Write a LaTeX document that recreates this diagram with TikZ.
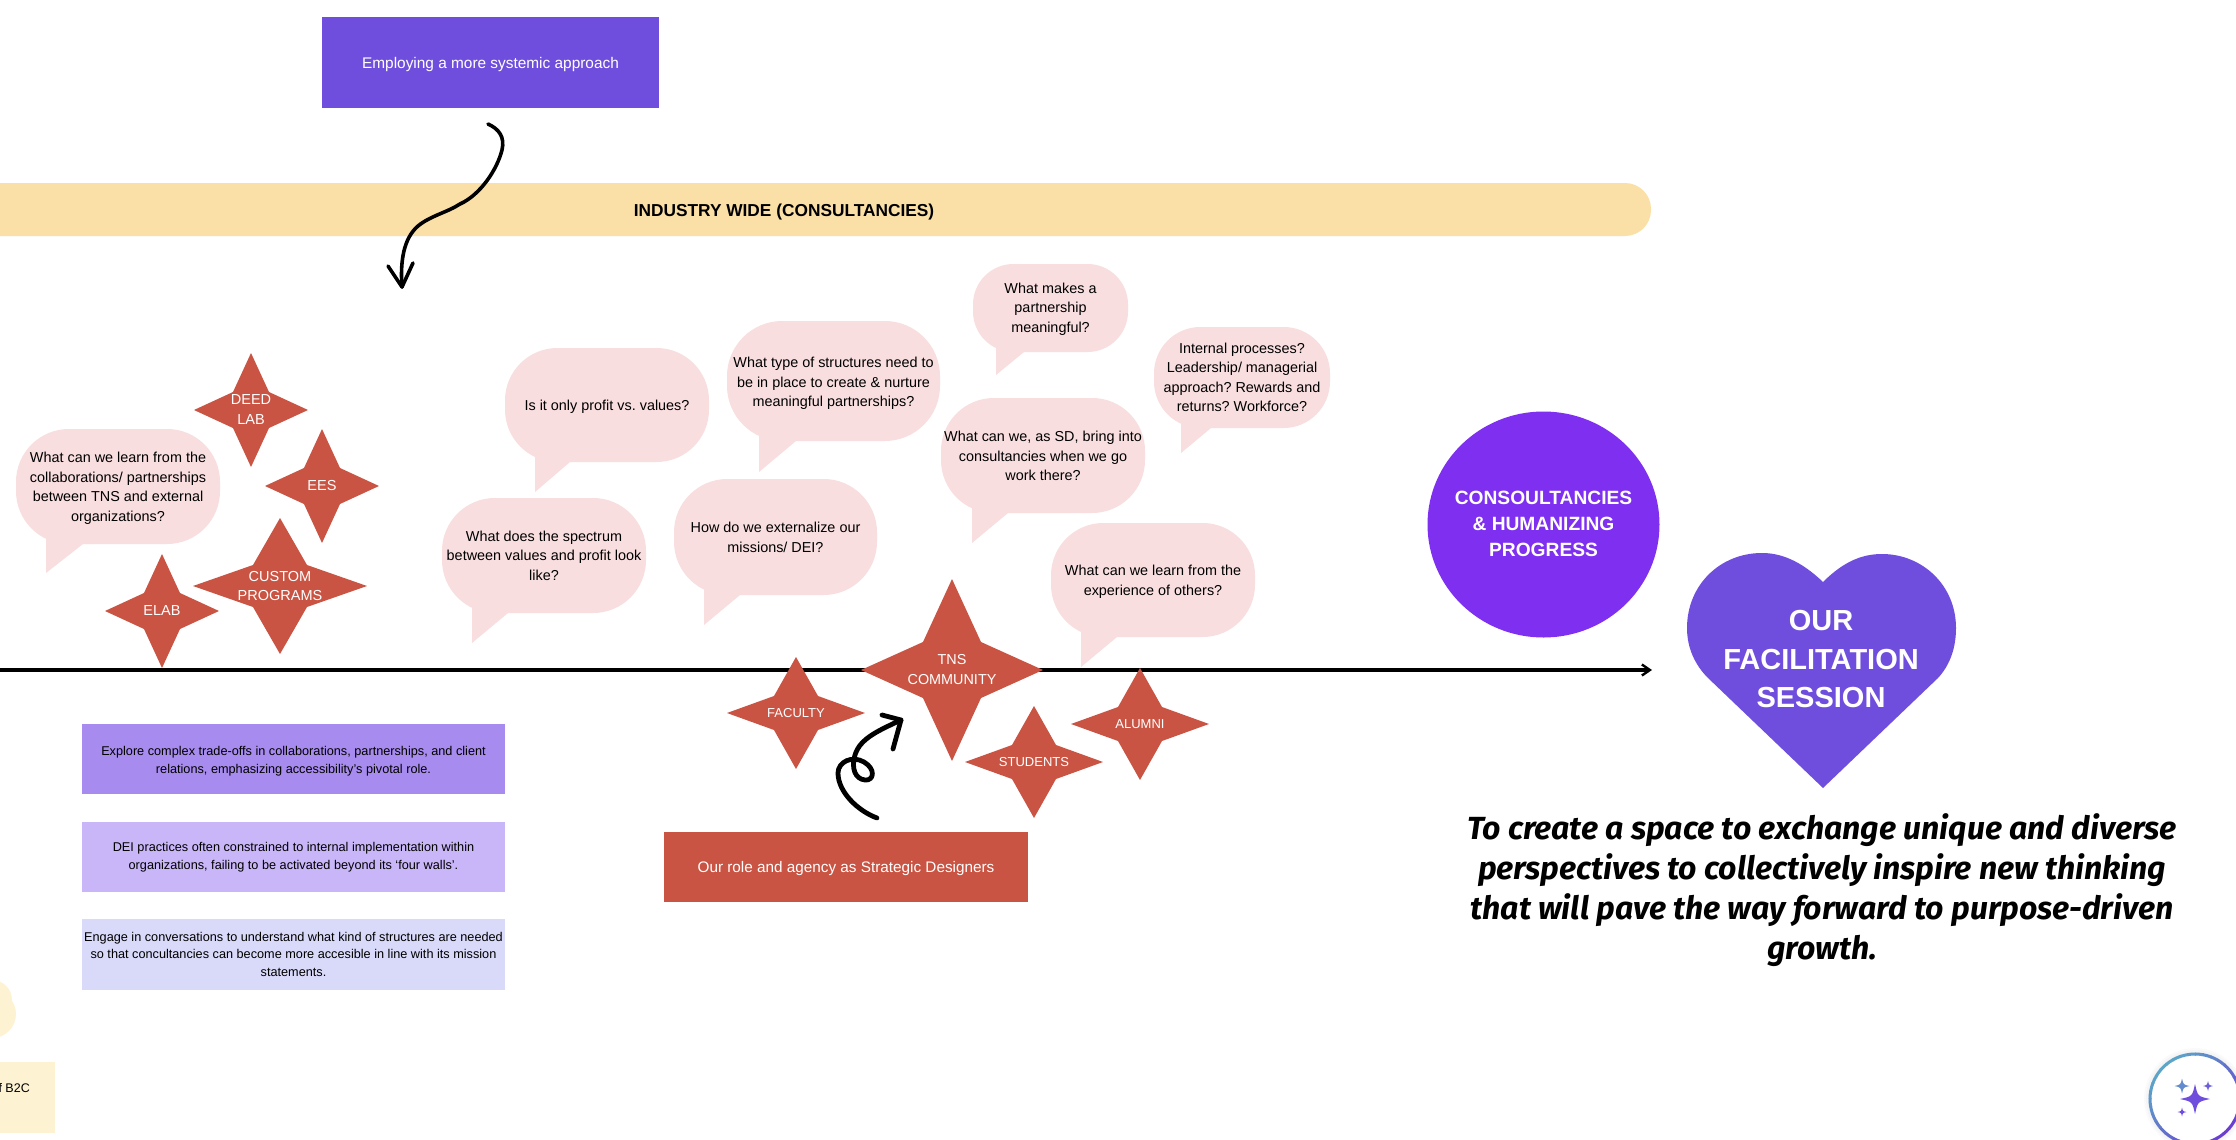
\documentclass[tikz,border=0pt]{standalone}
\usepackage{fontspec}
\setmainfont{Liberation Sans}
\newfontfamily\italfont{Fira Sans}
\usetikzlibrary{arrows.meta}
\definecolor{bandc}{HTML}{FADFA6}
\definecolor{bubc}{HTML}{F9DEDF}
\definecolor{starc}{HTML}{C95443}
\definecolor{violetc}{HTML}{6F4EDD}
\definecolor{circc}{HTML}{7E2FF0}
\definecolor{boxa}{HTML}{A78BEE}
\definecolor{boxb}{HTML}{C9B6F8}
\definecolor{boxc}{HTML}{D9D9F9}
\definecolor{creamc}{HTML}{FDF3D3}
\definecolor{ringa}{HTML}{5CA6C8}
\definecolor{ringb}{HTML}{6A3FD0}
\tikzset{
  x=1pt,y=-1pt,
  lbl/.style={align=center,inner sep=0pt,font=\frenchspacing\fontsize{14.4}{19.5}\selectfont,text=black},
  stlbl/.style={align=center,inner sep=0pt,text=white},
  hand/.style={draw=black,line width=3.6pt,line cap=round,line join=round},
}
\def\dyt{0}
% name, x1,y1,x2,y2, tail left, tip y, tail right; text in \bubbletext, offset in \dyt
\newcommand{\bubble}[8]{%
  \pgfmathsetmacro{\rr}{0.46*(#5-#3)}
  \path[fill=bubc,rounded corners=\rr pt] (#2,#3) rectangle (#4,#5);
  \path[fill=bubc] (#6,#5-14) -- (#6,#7) -- (#8,#5) -- (#8,#5-14) -- cycle;
  \node[lbl] (#1) at ({(#2+#4)/2},{(#3+#5)/2+\dyt}) {\bubbletext};
}
% name, cx, cy, hx, hy, ix, iy, size, leading; text in \startext
\newcommand{\fourstar}[9]{%
  \path[fill=starc] (#2,#3-#5) -- (#2+#6,#3-#7) -- (#2+#4,#3) -- (#2+#6,#3+#7) -- (#2,#3+#5) -- (#2-#6,#3+#7) -- (#2-#4,#3) -- (#2-#6,#3-#7) -- cycle;
  \node[stlbl,font=\fontsize{#8}{#9}\selectfont] (#1) at (#2,#3) {\startext};
}
\newcommand{\spark}[4]{%
  \path[fill=#4] (#1,#2-#3) .. controls (#1+0.18*#3,#2-0.18*#3) .. (#1+#3,#2) .. controls (#1+0.18*#3,#2+0.18*#3) .. (#1,#2+#3) .. controls (#1-0.18*#3,#2+0.18*#3) .. (#1-#3,#2) .. controls (#1-0.18*#3,#2-0.18*#3) .. (#1,#2-#3) -- cycle;
}
\begin{document}
\begin{tikzpicture}
\useasboundingbox (0,0) rectangle (2236,1140);
\clip (0,0) rectangle (2236,1140);
\fill[white] (0,0) rectangle (2236,1140);

% band
\path[fill=bandc,rounded corners=26pt] (-60,183) rectangle (1651,236);
\node[inner sep=0pt,font=\fontsize{17.3}{20}\selectfont\bfseries] (bandtext) at (784,212) {INDUSTRY WIDE (CONSULTANCIES)};

% top box
\path[fill=violetc] (322,17) rectangle (659,108);
\node[inner sep=0pt,text=white,font=\fontsize{15.4}{20}\selectfont] (topbox) at (490.5,65) {Employing a more systemic approach};

% timeline
\coordinate (tlstart) at (-5,670);
\coordinate (tlend) at (1652,670);
\draw[line width=3.4pt,-{Straight Barb[length=8pt,width=11pt,line width=2.4pt]}] (tlstart) -- (tlend);

% bubbles
\def\dyt{2}
\def\bubbletext{What can we learn from the\\collaborations/ partnerships\\between TNS and external\\organizations?}
\bubble{b1}{16}{429}{220}{544}{46}{573}{83}
\def\dyt{1.5}
\def\bubbletext{Is it only profit vs. values?}
\bubble{b2}{505}{348}{709}{462}{535}{492}{570}
\def\dyt{0}
\def\bubbletext{What does the spectrum\\between values and profit look\\like?}
\bubble{b3}{442}{498}{646}{613}{472}{643}{508}
\def\dyt{2.5}
\def\bubbletext{What type of structures need to\\be in place to create \& nurture\\meaningful partnerships?}
\bubble{b4}{727}{321}{940}{441}{759}{472}{796}
\def\dyt{0.5}
\def\bubbletext{How do we externalize our\\missions/ DEI?}
\bubble{b5}{674}{479}{877}{595}{704}{625}{740}
\def\dyt{1}
\def\bubbletext{What makes a\\partnership\\meaningful?}
\bubble{b6}{973}{264}{1128}{352}{996}{375}{1024}
\def\dyt{0.5}
\def\bubbletext{What can we, as SD, bring into\\consultancies when we go\\work there?}
\bubble{b7}{941}{398}{1145}{513}{972}{543}{1008}
\def\dyt{0}
\def\bubbletext{Internal processes?\\Leadership/ managerial\\approach? Rewards and\\returns? Workforce?}
\bubble{b8}{1154}{327}{1330}{428}{1181}{453}{1211}
\def\dyt{2}
\def\bubbletext{What can we learn from the\\experience of others?}
\bubble{b9}{1051}{523}{1255}{637}{1081}{667}{1117}

% stars
\def\startext{DEED\\LAB}
\fourstar{s1}{251}{410}{57}{57}{18}{18}{14.5}{20}
\def\startext{EES}
\fourstar{s2}{322}{486}{57}{57}{18}{18}{14.5}{20}
\def\startext{CUSTOM\\PROGRAMS}
\fourstar{s3}{280}{586}{87}{68}{27}{21}{14.5}{19}
\def\startext{ELAB}
\fourstar{s4}{162}{611}{57}{57}{18}{18}{14.5}{20}
\def\startext{FACULTY}
\fourstar{s5}{796}{713}{69}{56}{22}{17}{13}{18}
\def\startext{TNS\\COMMUNITY}
\fourstar{s6}{952}{670}{91}{91}{29}{28}{14.4}{20}
\def\startext{STUDENTS}
\fourstar{s7}{1034}{762}{69}{56}{22}{17}{13}{18}
\def\startext{ALUMNI}
\fourstar{s8}{1140}{724}{69}{56}{22}{17}{13}{18}

% left boxes
\path[fill=boxa] (82,724) rectangle (505,794);
\node[align=center,inner sep=0pt,font=\fontsize{12.7}{18}\selectfont] (lb1) at (293.5,761.5) {Explore complex trade-offs in collaborations, partnerships, and client\\relations, emphasizing accessibility's pivotal role.};
\path[fill=boxb] (82,822) rectangle (505,892);
\node[align=center,inner sep=0pt,font=\fontsize{12.7}{18}\selectfont] (lb2) at (293.5,857) {DEI practices often constrained to internal implementation within\\organizations, failing to be activated beyond its `four walls'.};
\path[fill=boxc] (82,919) rectangle (505,990);
\node[align=center,inner sep=0pt,font=\fontsize{12.7}{17.5}\selectfont] (lb3) at (293.5,954) {Engage in conversations to understand what kind of structures are needed\\so that concultancies can become more accesible in line with its mission\\statements.};

% red box
\path[fill=starc] (664,832) rectangle (1028,902);
\node[inner sep=0pt,text=white,font=\fontsize{15.3}{20}\selectfont] (redbox) at (846,868.5) {Our role and agency as Strategic Designers};

% hand arrows
\coordinate (a1s) at (488,124);
\coordinate (a1e) at (402,287);
\draw[hand] (a1s) .. controls (499,129) and (505,137) .. (502,150) .. controls (497,170) and (480,195) .. (460,204) .. controls (448,212) and (430,216) .. (418,226) .. controls (404,238) and (400,260) .. (a1e);
\draw[hand] (388,266) -- (a1e) -- (413,263);
\coordinate (a2s) at (877,818);
\coordinate (a2e) at (901,720);
\draw[hand,line width=4.8pt] (a2s) .. controls (858,811) and (838,792) .. (838,773) .. controls (838,762) and (852,755) .. (864,762) .. controls (876,769) and (874,781) .. (865,780) .. controls (855,779) and (851,768) .. (855,755) .. controls (860,738) and (880,730) .. (a2e);
\draw[hand,line width=4.8pt] (882,715) -- (a2e) -- (893,749);

% circle
\path[fill=circc] (1543.5,524.5) ellipse [x radius=116,y radius=113];
\node[stlbl,font=\fontsize{19.2}{26}\selectfont\bfseries] (circlabel) at (1543.5,524) {CONSOULTANCIES\\\& HUMANIZING\\PROGRESS};

% heart
\path[fill=violetc] (1823,582) .. controls (1800,560) and (1780,553) .. (1762,553) .. controls (1720,553) and (1687,585) .. (1687,628) .. controls (1687,648) and (1695,665) .. (1708,678) -- (1823,788) -- (1938,678) .. controls (1950,665) and (1956,648) .. (1956,628) .. controls (1956,585) and (1922,554) .. (1882,554) .. controls (1864,554) and (1845,560) .. (1823,582) -- cycle;
\node[stlbl,font=\fontsize{29}{38.5}\selectfont\bfseries] (heartlabel) at (1821,659.5) {OUR\\FACILITATION\\SESSION};

% italic
\node[align=center,inner sep=0pt,font=\italfont\fontsize{32}{40}\selectfont\bfseries\itshape] (purpose) at (1822,890) {To create a space to exchange unique and diverse\\perspectives to collectively inspire new thinking\\that will pave the way forward to purpose-driven\\growth.};

% bottom-left
\path[fill=creamc] (-8,1000) circle [radius=20];
\path[fill=creamc] (-8,1014) circle [radius=24];
\path[fill=creamc] (0,1062) rectangle (55,1133);
\node[inner sep=0pt,anchor=east,font=\fontsize{12.5}{16}\selectfont] (b2c) at (30,1088) {f B2C};

% badge
\foreach \rd in {51,49,47}{\fill[black,opacity=0.02] (2195,1099) circle [radius=\rd];}
\fill[white] (2195,1099) circle [radius=45];
\foreach \a in {0,10,...,350}{
  \pgfmathsetmacro{\mix}{100*(0.5+0.5*cos(\a+5-45))}
  \draw[line width=3pt,color=ringb!\mix!ringa] ({2195+45*cos(\a)},{1099+45*sin(\a)}) arc [start angle=\a,end angle=\a+11,radius=45];
}
\spark{2195}{1099}{15}{violetc}
\spark{2182}{1086}{7.5}{ringa!70!violetc}
\spark{2208}{1086}{5}{violetc!80!ringa}
\spark{2182}{1112}{4.5}{violetc}
\end{tikzpicture}
\end{document}
